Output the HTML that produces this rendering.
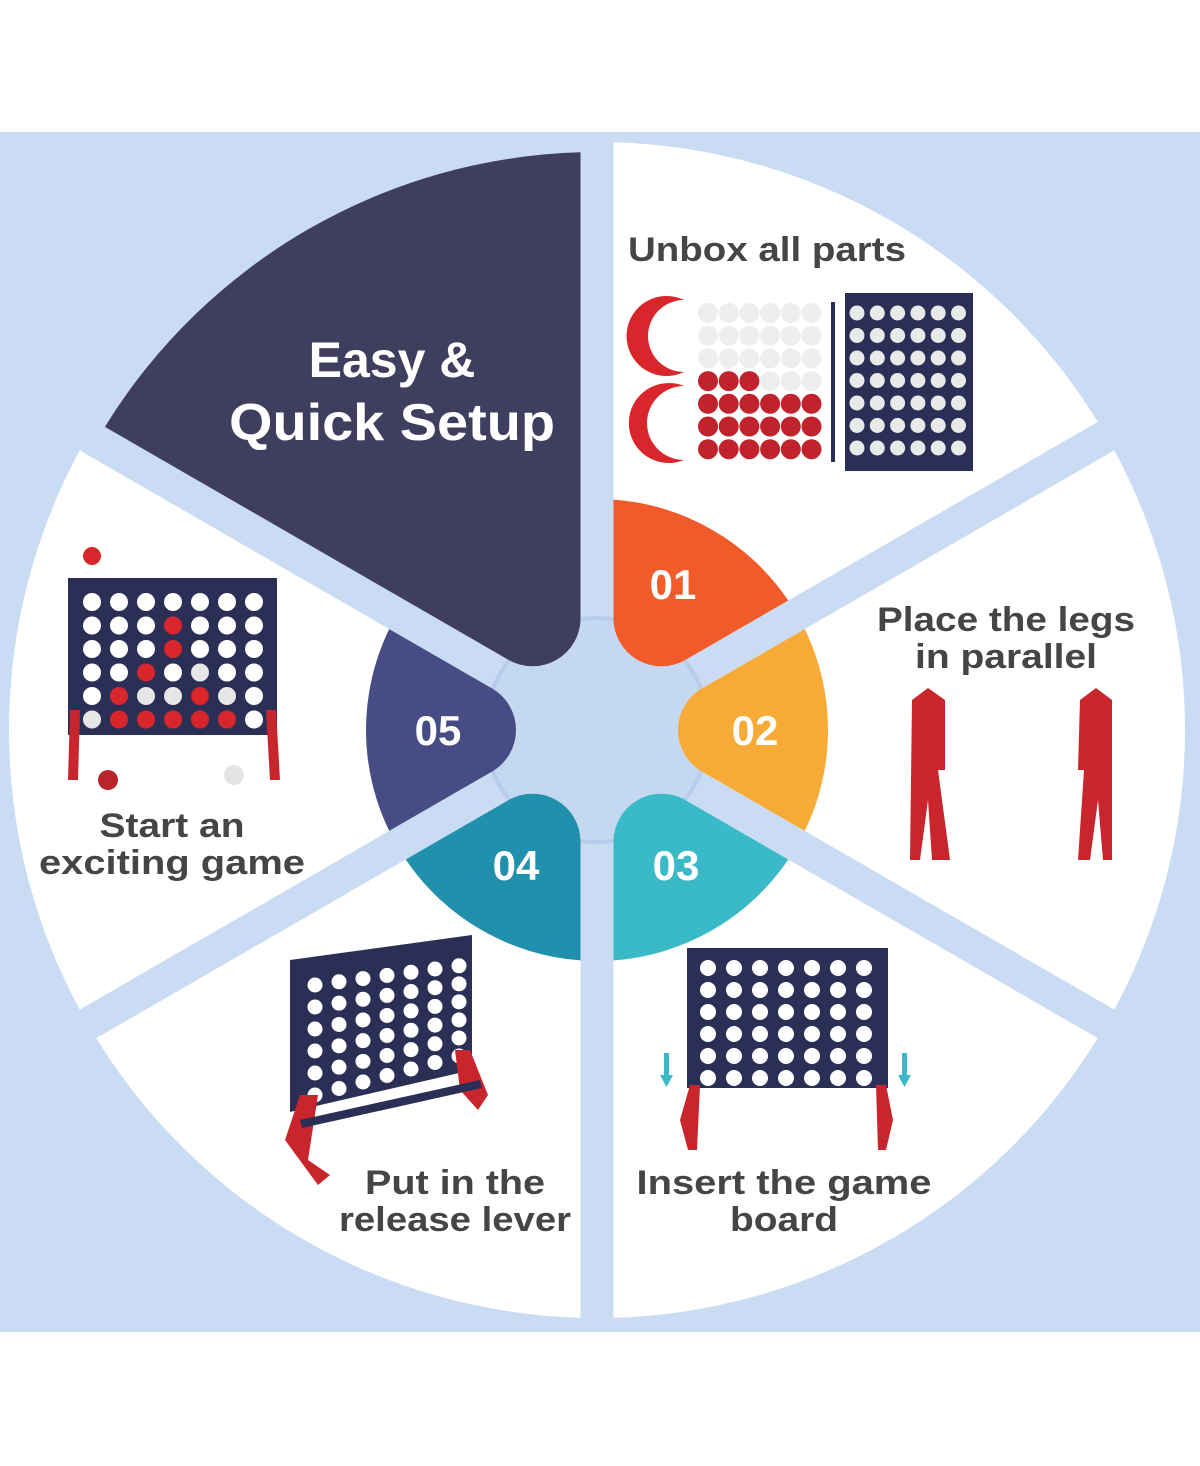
<!DOCTYPE html>
<html><head><meta charset="utf-8"><style>
html,body{margin:0;padding:0;background:#fff;}
svg{display:block;}
text{font-family:"Liberation Sans",sans-serif;font-weight:bold;}
</style></head><body>
<svg id="s" width="1200" height="1466" viewBox="0 0 1200 1466" xmlns="http://www.w3.org/2000/svg">
<rect x="0" y="0" width="1200" height="1466" fill="#fff"/>
<rect x="0" y="132" width="1200" height="1200" fill="#C9DCF3"/>
<g id="big"></g>
<circle cx="597" cy="730" r="112" fill="#C5D8F2" stroke="#B7CCEA" stroke-width="4"/>
<g id="dark"></g>
<g id="small"></g>
<g id="pics"></g>
<text x="392" y="377" font-size="50" fill="#fff" text-anchor="middle">Easy &amp;</text>
<text x="392" y="440" font-size="52" fill="#fff" text-anchor="middle" textLength="326" lengthAdjust="spacingAndGlyphs">Quick Setup</text>
<g fill="#fff" font-size="42" text-anchor="middle">
<text x="673" y="599">01</text>
<text x="755" y="745">02</text>
<text x="676" y="880">03</text>
<text x="516" y="880">04</text>
<text x="438" y="745">05</text>
</g>
<g fill="#454545" font-size="34" text-anchor="middle">
<text x="767" y="261" textLength="278" lengthAdjust="spacingAndGlyphs">Unbox all parts</text>
<text x="1006" y="631" textLength="258" lengthAdjust="spacingAndGlyphs">Place the legs</text>
<text x="1006" y="668" textLength="182" lengthAdjust="spacingAndGlyphs">in parallel</text>
<text x="172" y="837" textLength="145" lengthAdjust="spacingAndGlyphs">Start an</text>
<text x="172" y="874" textLength="266" lengthAdjust="spacingAndGlyphs">exciting game</text>
<text x="455" y="1194" textLength="180" lengthAdjust="spacingAndGlyphs">Put in the</text>
<text x="455" y="1231" textLength="232" lengthAdjust="spacingAndGlyphs">release lever</text>
<text x="784" y="1194" textLength="295" lengthAdjust="spacingAndGlyphs">Insert the game</text>
<text x="784" y="1231" textLength="108" lengthAdjust="spacingAndGlyphs">board</text>
</g>
</svg>
<script>
var NS="http://www.w3.org/2000/svg",cx=597,cy=730,g=16.5;
function P(a,d){a=a*Math.PI/180;return [cx+d*Math.cos(a),cy-d*Math.sin(a)];}
function wedge(th,R,r){
 var d0=g/Math.sin(Math.PI/6);
 var u=P(th,d0);
 function along(base,ang,t){var a=ang*Math.PI/180;return [base[0]+t*Math.cos(a),base[1]-t*Math.sin(a)];}
 var tt=r*Math.sqrt(3);
 var T1=along(u,th+30,tt),T2=along(u,th-30,tt);
 var c=Math.cos(Math.PI/6);
 var to=-d0*c+Math.sqrt(R*R-d0*d0*(1-c*c));
 var O1=along(u,th+30,to),O2=along(u,th-30,to);
 return "M"+T2+" A"+r+" "+r+" 0 0 1 "+T1+" L"+O1+" A"+R+" "+R+" 0 0 1 "+O2+" Z";
}
function add(par,tag,at){var e=document.createElementNS(NS,tag);for(var k in at)e.setAttribute(k,at[k]);(typeof par=="string"?document.getElementById(par):par).appendChild(e);return e;}
[60,0,-60,-120,180].forEach(function(t){add("big","path",{d:wedge(t,588,48),fill:"#fff"});});
add("dark","path",{d:wedge(120,578,48),fill:"#3F3E5E"});
var sc={60:"#F15A29",0:"#F7AA35",300:"#3ABAC7",240:"#2190AD",180:"#474D84"};
for(var t in sc)add("small","path",{d:wedge(+t,231,48),fill:sc[t]});
var pics=document.getElementById("pics");
function rect(x,y,w,h,f){add(pics,"rect",{x:x,y:y,width:w,height:h,fill:f});}
function circ(x,y,r,f){add(pics,"circle",{cx:x,cy:y,r:r,fill:f});}
function poly(pts,f){add(pics,"polygon",{points:pts,fill:f});}
var NAVY="#2B2F55",RED="#C8262C";
// 1 unbox
add(pics,"path",{d:"M684,300 A40,40 0 1 0 684,372 A30,30 0 0 1 684,300 Z",fill:"#D8262C"});
add(pics,"path",{d:"M684,386 A40,40 0 1 0 684,460 A30,30 0 0 1 684,386 Z",fill:"#D8262C"});
for(var j=0;j<7;j++)for(var i=0;i<6;i++){var red=(j>=4)||(j==3&&i<3);circ(708+i*20.7,313+j*22.7,10,red?"#C0232B":"#EEEEEE");}
rect(831,302,4,160,NAVY);
rect(845,293,128,178,NAVY);
for(var j=0;j<7;j++)for(var i=0;i<6;i++)circ(857+i*20.3,313+j*22.5,7.5,"#E8EAEA");
// 2 legs
poly("912,700 928,688 945,700 945,770 938,770 950,860 932,860 928,800 920,860 910,860",RED);
poly("1080,700 1096,688 1112,700 1112,860 1103,860 1098,800 1090,860 1078,860 1084,770 1078,770",RED);
// 3 insert
rect(687,948,201,140,NAVY);
for(var j=0;j<6;j++)for(var i=0;i<7;i++)circ(708+i*26,968+j*22,8,"#fff");
poly("690,1085 700,1085 697,1150 688,1150 680,1120",RED);
poly("876,1085 886,1085 893,1120 886,1150 878,1150",RED);
rect(664,1053,5,22,"#3ABAC7");poly("660,1075 673,1075 666.5,1087","#3ABAC7");
rect(902,1053,5,22,"#3ABAC7");poly("898,1075 911,1075 904.5,1087","#3ABAC7");
// 4 put in
poly("290,960 472,935 472,1070 290,1112",NAVY);
for(var j=0;j<6;j++)for(var i=0;i<7;i++){var x=315+i*24,y=985-i*3.2+j*22*(1-i*0.03);circ(x,y,7.5,"#fff");}
poly("300,1095 318,1095 308,1160 330,1175 318,1185 285,1140",RED);
poly("455,1050 470,1050 488,1095 478,1110 460,1090",RED);
poly("300,1120 480,1080 482,1088 302,1128",NAVY);
// 5 start
rect(68,578,209,157,NAVY);
var reds={"3,1":1,"3,2":1,"2,3":1,"1,4":1,"1,5":1,"2,5":1,"3,5":1,"4,4":1,"4,5":1,"5,5":1};
var greys={"2,4":1,"3,4":1,"4,3":1,"5,4":1,"0,5":1};
for(var j=0;j<6;j++)for(var i=0;i<7;i++){var k=i+","+j;circ(92+i*27,602+j*23.5,9,reds[k]?"#D8262C":(greys[k]?"#E6E6E6":"#fff"));}
poly("70,710 80,710 78,780 68,780",RED);
poly("266,710 276,710 280,780 270,780",RED);
circ(108,780,10,"#B8262C");circ(234,775,10,"#E4E4E4");circ(92,556,9,"#D8262C");
</script>
</body></html>
